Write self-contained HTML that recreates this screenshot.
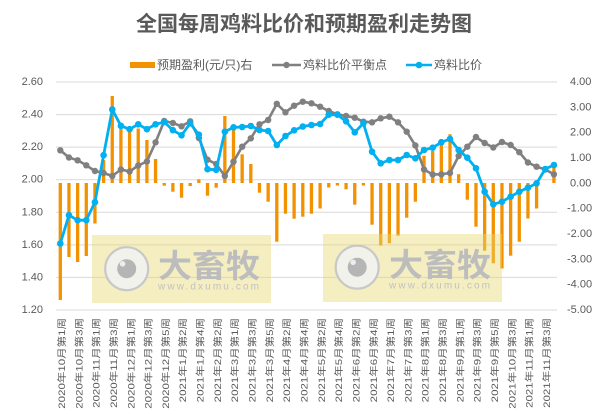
<!DOCTYPE html>
<html>
<head>
<meta charset="utf-8">
<style>
  html,body{margin:0;padding:0;background:#fff;}
  svg{display:block;}
  text{font-family:"Liberation Sans","Noto Sans CJK SC",sans-serif;}
</style>
</head>
<body>
<svg width="609" height="414" viewBox="0 0 609 414" xmlns="http://www.w3.org/2000/svg">
  <defs>
    <marker id="mg" markerUnits="userSpaceOnUse" markerWidth="8" markerHeight="8" refX="4" refY="4">
      <circle cx="4" cy="4" r="3.2" fill="#808080"/>
    </marker>
    <marker id="mb" markerUnits="userSpaceOnUse" markerWidth="8" markerHeight="8" refX="4" refY="4">
      <circle cx="4" cy="4" r="3.3" fill="#00B0F0"/>
    </marker>
  </defs>
  <rect width="609" height="414" fill="#fff"/>

  <!-- Title -->
  <text x="304" y="31" text-anchor="middle" font-size="21" font-weight="bold" fill="#595959">全国每周鸡料比价和预期盈利走势图</text>

  <!-- Legend -->
  <rect x="130" y="62" width="25" height="6" fill="#F39200"/>
  <text x="157" y="65" dominant-baseline="central" font-size="12" fill="#595959">预期盈利(元/只)右</text>
  <line x1="272" y1="65" x2="301" y2="65" stroke="#808080" stroke-width="2.5"/>
  <circle cx="286.5" cy="65" r="3.2" fill="#808080"/>
  <text x="303" y="65" dominant-baseline="central" font-size="12" fill="#595959">鸡料比价平衡点</text>
  <line x1="406" y1="65" x2="432" y2="65" stroke="#00B0F0" stroke-width="2.5"/>
  <circle cx="419" cy="65" r="3.3" fill="#00B0F0"/>
  <text x="434" y="65" dominant-baseline="central" font-size="12" fill="#595959">鸡料比价</text>

  <!-- Gridlines -->
  <g stroke="#D9D9D9" stroke-width="1">
    <line x1="56" y1="82" x2="557" y2="82"/>
    <line x1="56" y1="114.57" x2="557" y2="114.57"/>
    <line x1="56" y1="147.14" x2="557" y2="147.14"/>
    <line x1="56" y1="179.71" x2="557" y2="179.71"/>
    <line x1="56" y1="212.29" x2="557" y2="212.29"/>
    <line x1="56" y1="244.86" x2="557" y2="244.86"/>
    <line x1="56" y1="277.43" x2="557" y2="277.43"/>
    <line x1="56" y1="310" x2="557" y2="310"/>
  </g>

  <!-- Left axis labels -->
  <g font-size="11" fill="#595959" text-anchor="end" dominant-baseline="central">
    <text x="43" y="82">2.60</text>
    <text x="43" y="114.57">2.40</text>
    <text x="43" y="147.14">2.20</text>
    <text x="43" y="179.71">2.00</text>
    <text x="43" y="212.29">1.80</text>
    <text x="43" y="244.86">1.60</text>
    <text x="43" y="277.43">1.40</text>
    <text x="43" y="310">1.20</text>
  </g>

  <!-- Right axis labels -->
  <g font-size="11" fill="#595959" dominant-baseline="central">
    <text x="570" y="82">4.00</text>
    <text x="570" y="107.33">3.00</text>
    <text x="570" y="132.67">2.00</text>
    <text x="570" y="158">1.00</text>
    <text x="570" y="183.33">0.00</text>
    <text x="567" y="208.67">-1.00</text>
    <text x="567" y="234">-2.00</text>
    <text x="567" y="259.33">-3.00</text>
    <text x="567" y="284.67">-4.00</text>
    <text x="567" y="310">-5.00</text>
  </g>

  <!-- Bars -->
  <g fill="#F39200">
    <rect x="58.65" y="183" width="3.3" height="117"/>
    <rect x="67.31" y="183" width="3.3" height="74"/>
    <rect x="75.97" y="183" width="3.3" height="79"/>
    <rect x="84.63" y="183" width="3.3" height="73"/>
    <rect x="93.29" y="183" width="3.3" height="40.5"/>
    <rect x="101.95" y="160" width="3.3" height="23"/>
    <rect x="110.61" y="96" width="3.3" height="87"/>
    <rect x="119.27" y="125" width="3.3" height="58"/>
    <rect x="127.93" y="131.5" width="3.3" height="51.5"/>
    <rect x="136.59" y="128.5" width="3.3" height="54.5"/>
    <rect x="145.25" y="140" width="3.3" height="43"/>
    <rect x="153.91" y="159" width="3.3" height="24"/>
    <rect x="162.57" y="183" width="3.3" height="2.7"/>
    <rect x="171.23" y="183" width="3.3" height="8.7"/>
    <rect x="179.89" y="183" width="3.3" height="14.7"/>
    <rect x="188.55" y="183" width="3.3" height="3"/>
    <rect x="197.21" y="179.3" width="3.3" height="3.7"/>
    <rect x="205.87" y="183" width="3.3" height="12.7"/>
    <rect x="214.53" y="183" width="3.3" height="4.7"/>
    <rect x="223.19" y="116" width="3.3" height="67"/>
    <rect x="231.85" y="127.5" width="3.3" height="55.5"/>
    <rect x="240.51" y="154.3" width="3.3" height="28.7"/>
    <rect x="249.17" y="164" width="3.3" height="19"/>
    <rect x="257.83" y="183" width="3.3" height="9.7"/>
    <rect x="266.49" y="183" width="3.3" height="18.7"/>
    <rect x="275.15" y="183" width="3.3" height="58.7"/>
    <rect x="283.81" y="183" width="3.3" height="30.7"/>
    <rect x="292.47" y="183" width="3.3" height="35.7"/>
    <rect x="301.13" y="183" width="3.3" height="33.7"/>
    <rect x="309.79" y="183" width="3.3" height="30.7"/>
    <rect x="318.45" y="183" width="3.3" height="25.5"/>
    <rect x="327.11" y="183" width="3.3" height="4.5"/>
    <rect x="335.77" y="183" width="3.3" height="2.5"/>
    <rect x="344.43" y="183" width="3.3" height="6.3"/>
    <rect x="353.09" y="183" width="3.3" height="21.7"/>
    <rect x="361.75" y="183" width="3.3" height="2.5"/>
    <rect x="370.41" y="183" width="3.3" height="41.7"/>
    <rect x="379.07" y="183" width="3.3" height="62.5"/>
    <rect x="387.73" y="183" width="3.3" height="60.3"/>
    <rect x="396.39" y="183" width="3.3" height="52.7"/>
    <rect x="405.05" y="183" width="3.3" height="34.7"/>
    <rect x="413.71" y="183" width="3.3" height="18.7"/>
    <rect x="422.37" y="155.8" width="3.3" height="27.2"/>
    <rect x="431.03" y="151" width="3.3" height="32"/>
    <rect x="439.69" y="139" width="3.3" height="44"/>
    <rect x="448.35" y="134.2" width="3.3" height="48.8"/>
    <rect x="457.01" y="174.2" width="3.3" height="8.8"/>
    <rect x="465.67" y="183" width="3.3" height="16.7"/>
    <rect x="474.33" y="183" width="3.3" height="43.7"/>
    <rect x="482.99" y="183" width="3.3" height="67.7"/>
    <rect x="491.65" y="183" width="3.3" height="80.3"/>
    <rect x="500.31" y="183" width="3.3" height="85.5"/>
    <rect x="508.97" y="183" width="3.3" height="72.7"/>
    <rect x="517.63" y="183" width="3.3" height="58.7"/>
    <rect x="526.29" y="183" width="3.3" height="35.5"/>
    <rect x="534.95" y="183" width="3.3" height="25.5"/>
    <rect x="552.27" y="167" width="3.3" height="16"/>
  </g>

  <!-- Gray line: 鸡料比价平衡点 -->
  <polyline fill="none" stroke="#808080" stroke-width="2.6" stroke-linejoin="round"
    marker-start="url(#mg)" marker-mid="url(#mg)" marker-end="url(#mg)"
    points="60.3,150.3 68.96,157.5 77.62,160.3 86.28,165.3 94.94,171 103.6,173 112.26,176 120.92,169.5 129.58,171.5 138.24,165.5 146.9,161.5 155.56,142.3 164.22,121 172.88,123 181.54,126.3 190.2,121.3 198.86,138 207.52,159.7 216.18,164 224.84,176 233.5,161.7 242.16,146.7 250.82,138.3 259.48,124.3 268.14,120 276.8,103.8 285.46,112.3 294.12,105.7 302.78,101.7 311.44,103.3 320.1,106.7 328.76,111 337.42,114.3 346.08,116 354.74,117.7 363.4,121.7 372.06,122.3 380.72,118.3 389.38,116.7 398.04,122.3 406.7,131.7 415.36,145.5 424.02,169.5 432.68,174.5 441.34,174.3 450,173 458.66,156 467.32,146.7 475.98,137 484.64,143 493.3,147.5 501.96,142 510.62,145 519.28,152.2 527.94,162.5 536.6,166.7 545.26,169.5 553.92,174.3"/>

  <!-- Blue line: 鸡料比价 -->
  <polyline fill="none" stroke="#00B0F0" stroke-width="2.8" stroke-linejoin="round"
    marker-start="url(#mb)" marker-mid="url(#mb)" marker-end="url(#mb)"
    points="60.3,243.5 68.96,215.2 77.62,220.2 86.28,220.2 94.94,202.2 103.6,155.2 112.26,109.5 120.92,125.8 129.58,129.2 138.24,124.3 146.9,129.2 155.56,124.3 164.22,122 172.88,130.2 181.54,135.3 190.2,123.3 198.86,134.7 207.52,169.2 216.18,169.8 224.84,131.7 233.5,127.3 242.16,127 250.82,126 259.48,130 268.14,131 276.8,145 285.46,136 294.12,130.3 302.78,126.5 311.44,125 320.1,124 328.76,114.7 337.42,114.7 346.08,121.3 354.74,132.3 363.4,123.3 372.06,151.7 380.72,163.3 389.38,160 398.04,160 406.7,155 415.36,158.3 424.02,150 432.68,147.7 441.34,142.3 450,139 458.66,150 467.32,157.7 475.98,168.3 484.64,191.7 493.3,204.3 501.96,201.7 510.62,196.7 519.28,191.7 527.94,187.7 536.6,183.3 545.26,169 553.92,165"/>

  <!-- Watermarks -->
  <g>
    <rect x="92" y="235" width="179" height="68" fill="rgba(232,216,112,0.43)"/>
    <circle cx="126.7" cy="268.7" r="21.5" fill="rgba(242,242,242,0.9)" stroke="#C8C8C8" stroke-width="2.2"/>
    <circle cx="126.7" cy="268.7" r="9.5" fill="#B5B5B5"/>
    <circle cx="122.6" cy="263.8" r="2.8" fill="#EDEDED"/>
    <text x="158" y="266" dominant-baseline="central" font-size="32" font-weight="bold" fill="#BDBDBD" textLength="102" lengthAdjust="spacingAndGlyphs">大畜牧</text>
    <text x="158" y="287" dominant-baseline="central" font-size="10" fill="#C2C2C2" textLength="101" lengthAdjust="spacing">www.dxumu.com</text>

    <rect x="323" y="234" width="179" height="68" fill="rgba(232,216,112,0.43)"/>
    <circle cx="357.2" cy="267.2" r="21.5" fill="rgba(242,242,242,0.9)" stroke="#C8C8C8" stroke-width="2.2"/>
    <circle cx="357.2" cy="267.2" r="9.5" fill="#B5B5B5"/>
    <circle cx="353.1" cy="262.3" r="2.8" fill="#EDEDED"/>
    <text x="389" y="265" dominant-baseline="central" font-size="32" font-weight="bold" fill="#BDBDBD" textLength="102" lengthAdjust="spacingAndGlyphs">大畜牧</text>
    <text x="389" y="286" dominant-baseline="central" font-size="10" fill="#C2C2C2" textLength="101" lengthAdjust="spacing">www.dxumu.com</text>
  </g>

  <!-- X axis labels -->
  <g font-size="11.5" fill="#595959" text-anchor="end" dominant-baseline="central">
    <text transform="translate(62.8,318) rotate(-90) scale(1,0.8)">2020年10月第1周</text>
    <text transform="translate(80.1,318) rotate(-90) scale(1,0.8)">2020年10月第3周</text>
    <text transform="translate(97.4,318) rotate(-90) scale(1,0.8)">2020年11月第1周</text>
    <text transform="translate(114.8,318) rotate(-90) scale(1,0.8)">2020年11月第3周</text>
    <text transform="translate(132.1,318) rotate(-90) scale(1,0.8)">2020年12月第1周</text>
    <text transform="translate(149.4,318) rotate(-90) scale(1,0.8)">2020年12月第3周</text>
    <text transform="translate(166.7,318) rotate(-90) scale(1,0.8)">2020年12月第5周</text>
    <text transform="translate(184.0,318) rotate(-90) scale(1,0.8)">2021年1月第2周</text>
    <text transform="translate(201.4,318) rotate(-90) scale(1,0.8)">2021年1月第4周</text>
    <text transform="translate(218.7,318) rotate(-90) scale(1,0.8)">2021年2月第2周</text>
    <text transform="translate(236.0,318) rotate(-90) scale(1,0.8)">2021年3月第1周</text>
    <text transform="translate(253.3,318) rotate(-90) scale(1,0.8)">2021年3月第3周</text>
    <text transform="translate(270.6,318) rotate(-90) scale(1,0.8)">2021年3月第5周</text>
    <text transform="translate(288.0,318) rotate(-90) scale(1,0.8)">2021年4月第2周</text>
    <text transform="translate(305.3,318) rotate(-90) scale(1,0.8)">2021年4月第4周</text>
    <text transform="translate(322.6,318) rotate(-90) scale(1,0.8)">2021年5月第2周</text>
    <text transform="translate(339.9,318) rotate(-90) scale(1,0.8)">2021年5月第4周</text>
    <text transform="translate(357.2,318) rotate(-90) scale(1,0.8)">2021年6月第2周</text>
    <text transform="translate(374.6,318) rotate(-90) scale(1,0.8)">2021年6月第4周</text>
    <text transform="translate(391.9,318) rotate(-90) scale(1,0.8)">2021年7月第1周</text>
    <text transform="translate(409.2,318) rotate(-90) scale(1,0.8)">2021年7月第3周</text>
    <text transform="translate(426.5,318) rotate(-90) scale(1,0.8)">2021年8月第1周</text>
    <text transform="translate(443.8,318) rotate(-90) scale(1,0.8)">2021年8月第3周</text>
    <text transform="translate(461.2,318) rotate(-90) scale(1,0.8)">2021年9月第1周</text>
    <text transform="translate(478.5,318) rotate(-90) scale(1,0.8)">2021年9月第3周</text>
    <text transform="translate(495.8,318) rotate(-90) scale(1,0.8)">2021年9月第5周</text>
    <text transform="translate(513.1,318) rotate(-90) scale(1,0.8)">2021年10月第3周</text>
    <text transform="translate(530.4,318) rotate(-90) scale(1,0.8)">2021年11月第1周</text>
    <text transform="translate(547.8,318) rotate(-90) scale(1,0.8)">2021年11月第3周</text>
  </g>
</svg>
</body>
</html>
